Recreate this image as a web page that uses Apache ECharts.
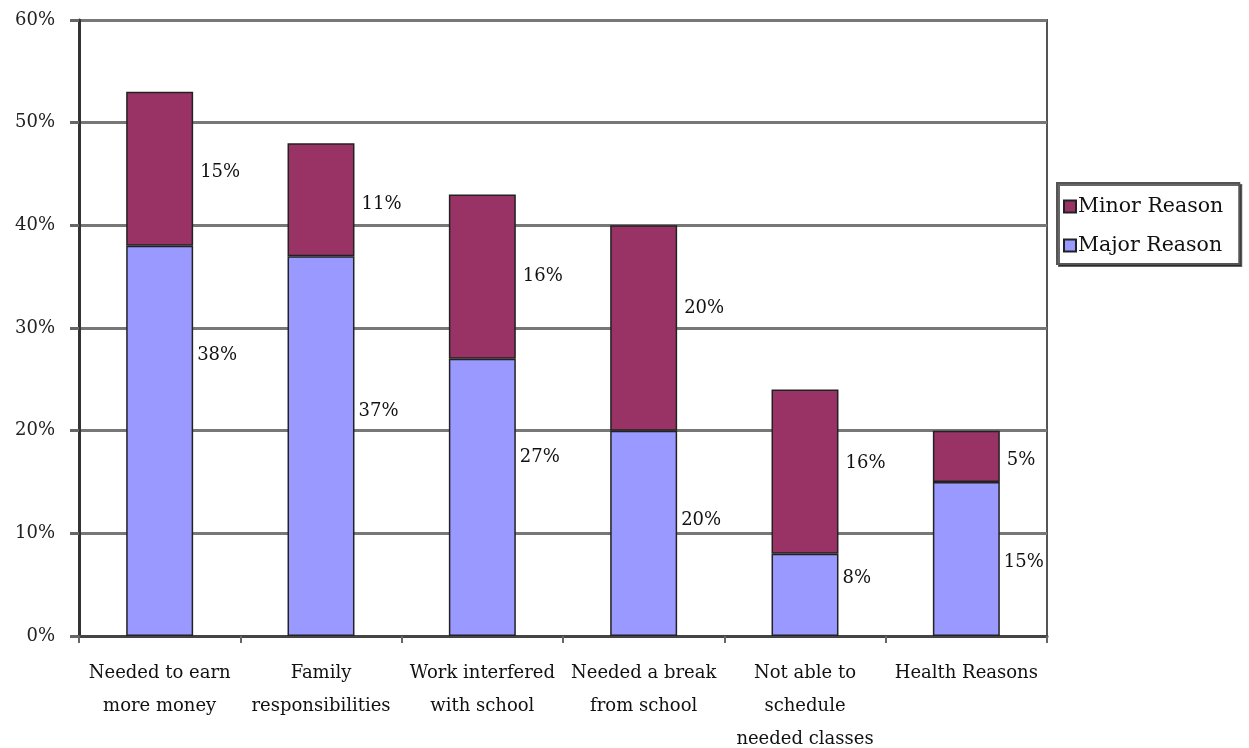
<!DOCTYPE html>
<html>
<head>
<meta charset="utf-8">
<script src="https://cdn.jsdelivr.net/npm/echarts@6/dist/echarts.min.js"></script>
<style>
html,body{margin:0;padding:0;background:#fff;overflow:hidden;}
#chart{width:1249px;height:748px;}
</style>
</head>
<body>
<div id="chart"></div>
<script>
const categories = [
  "Needed to earn\nmore money",
  "Family\nresponsibilities",
  "Work interfered\nwith school",
  "Needed a break\nfrom school",
  "Not able to\nschedule\nneeded classes",
  "Health Reasons"
];
const majorReason = [38, 37, 27, 20, 8, 15];
const minorReason = [15, 11, 16, 20, 16, 5];
const yTicks = [0, 10, 20, 30, 40, 50, 60];

// label nudges (vertical, px) to mimic the placement in the original figure
const majorNudge = [-86, -35, -40, -13, -17, 3];
const minorNudge = [3, 5, 0, -20, -8, 4];

const FONT = '"DejaVu Serif", "Liberation Serif", serif';
const FS = 18;
const chart = echarts.init(document.getElementById('chart'), null, {renderer: 'canvas'});

function items(vals, nudges) {
  return vals.map((v, i) => ({value: v, label: {offset: [0, nudges[i]]}}));
}

chart.setOption({
  animation: false,
  backgroundColor: '#fff',
  grid: {left: 79, right: 202, top: 20, bottom: 112, show: true, borderColor: '#555', borderWidth: 2,
    outerBoundsMode: 'none', containLabel: false},
  legend: {
    orient: 'vertical',
    left: 1057, top: 183,
    data: ['Minor Reason', 'Major Reason'],
    backgroundColor: '#fff',
    borderColor: '#555', borderWidth: 2,
    shadowColor: 'rgba(0,0,0,0.6)', shadowOffsetX: 2, shadowOffsetY: 2, shadowBlur: 0,
    padding: [13, 16, 8, 6],
    itemWidth: 12, itemHeight: 12, itemGap: 18,
    icon: 'rect',
    textStyle: {fontFamily: FONT, fontSize: 20.5, color: '#111', padding: [0, 0, 0, -3]}
  },
  xAxis: {
    type: 'category',
    data: categories,
    boundaryGap: true,
    axisLine: {lineStyle: {color: '#444', width: 3}},
    axisTick: {show: true, length: 7, lineStyle: {color: '#666', width: 2}},
    axisLabel: {interval: 0, fontFamily: FONT, fontSize: FS, color: '#111', lineHeight: 33, margin: 21}
  },
  yAxis: {
    type: 'value',
    min: 0, max: 60, interval: 10,
    axisLine: {show: true, lineStyle: {color: '#333', width: 3}},
    axisTick: {show: true, length: 9, lineStyle: {color: '#666', width: 3}},
    splitLine: {lineStyle: {color: '#777', width: 3}},
    axisLabel: {fontFamily: FONT, fontSize: FS, color: '#222', margin: 24,
      formatter: v => yTicks.includes(v) ? v + '%' : ''}
  },
  series: [
    {
      name: 'Major Reason', type: 'bar', stack: 'total',
      barWidth: '41.5%',
      data: items(majorReason, majorNudge),
      itemStyle: {color: '#9999FF', borderColor: '#222', borderWidth: 1.5},
      label: {show: true, position: 'right', distance: 4, formatter: '{c}%',
        fontFamily: FONT, fontSize: FS, color: '#111'}
    },
    {
      name: 'Minor Reason', type: 'bar', stack: 'total',
      data: items(minorReason, minorNudge),
      itemStyle: {color: '#993366', borderColor: '#222', borderWidth: 1.5},
      label: {show: true, position: 'right', distance: 7, formatter: '{c}%',
        fontFamily: FONT, fontSize: FS, color: '#111'}
    }
  ]
});
</script>
</body>
</html>
